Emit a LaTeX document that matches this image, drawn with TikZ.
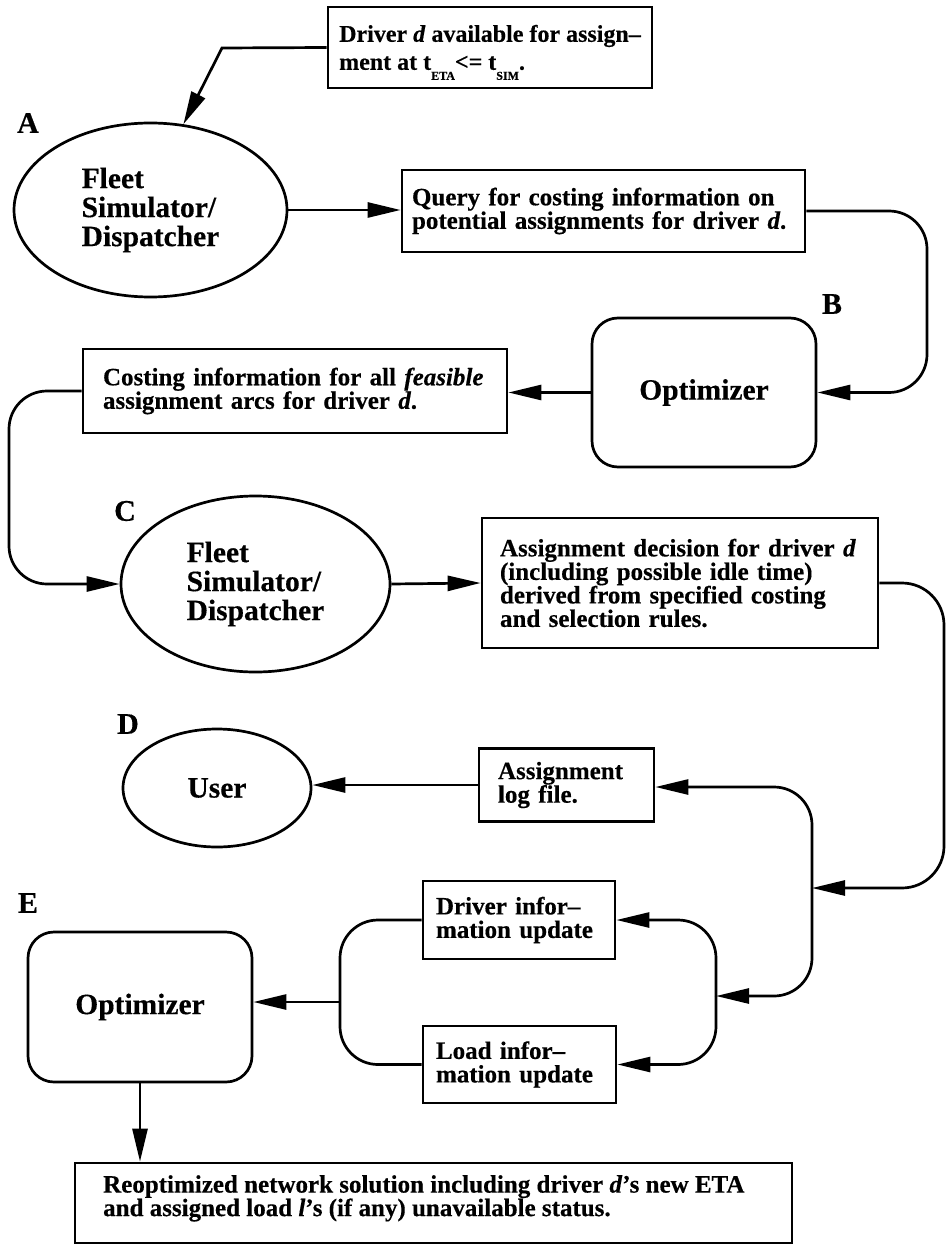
\documentclass[tikz,border=0pt]{standalone}
\usepackage{fontspec}
\setmainfont{Liberation Serif}[BoldFeatures={FakeBold=0.4},BoldItalicFeatures={FakeBold=0.4}]
\usetikzlibrary{arrows.meta,shapes.geometric}
\newcommand{\sbx}[1]{\raisebox{-10pt}[0pt][0pt]{\fontsize{12}{12}\selectfont #1}}
\begin{document}
\begin{tikzpicture}[x=1pt,y=-1pt,
  lw/.style={line width=2.7pt},
  txt/.style={font=\bfseries\fontsize{25}{23.5}\selectfont},
  big/.style={font=\bfseries\fontsize{29.5}{29}\selectfont},
  box/.style={draw,lw,rectangle,txt,align=left,inner ysep=0pt},
  oval/.style={draw,lw,ellipse,big,align=left,inner sep=0pt},
  rbox/.style={draw,lw,rectangle,rounded corners=26pt,big,inner sep=0pt},
  lab/.style={font=\bfseries\fontsize{30}{30}\selectfont},
  arr/.style={lw,-{Triangle[length=33pt,width=15pt]}},
  con/.style={lw,rounded corners=38pt},
]
\useasboundingbox (0,0) rectangle (947,1246);

% nodes
\node[box, minimum width=324pt, minimum height=81pt, inner xsep=0pt,
      font=\bfseries\fontsize{24}{28}\selectfont] (top) at (490,47.5)
  {Driver \textit{d} available for assign–\\ment at t\sbx{ETA}<= t\sbx{SIM}.};
\node[box, minimum width=403pt, minimum height=82pt, inner xsep=10pt, text width=383pt] (query) at (603.5,211)
  {Query for costing information on\\potential assignments for driver \textit{d}.};
\node[rbox, minimum width=224pt, minimum height=149pt] (optB) at (704,392.5) {Optimizer};
\node[box, minimum width=424pt, minimum height=84pt, inner xsep=20pt, text width=384pt] (costing) at (295,391)
  {Costing information for all \textit{feasible}\\assignment arcs for driver \textit{d}.};
\node[oval, minimum width=273pt, minimum height=174pt] (A) at (150.5,210) {Fleet\\Simulator/\\Dispatcher};
\node[oval, minimum width=269pt, minimum height=176pt] (C) at (255.5,584) {Fleet\\Simulator/\\Dispatcher};
\node[box, minimum width=396pt, minimum height=130pt, inner xsep=18pt, text width=360pt] (assign) at (680,583)
  {Assignment decision for driver \textit{d}\\(including possible idle time)\\derived from specified costing\\and selection rules.};
\node[oval, minimum width=188pt, minimum height=118pt] (user) at (217,788) {User};
\node[box, minimum width=175pt, minimum height=73pt, inner xsep=19pt, text width=137pt] (log) at (566.5,785)
  {Assignment\\log file.};
\node[box, minimum width=192pt, minimum height=78pt, inner xsep=13pt, text width=166pt] (drv) at (519,920)
  {Driver infor–\\mation update};
\node[box, minimum width=193pt, minimum height=77pt, inner xsep=13pt, text width=167pt] (load) at (519.5,1064.5)
  {Load infor–\\mation update};
\node[rbox, minimum width=224pt, minimum height=150pt] (optE) at (140,1007) {Optimizer};
\node[draw, lw, minimum width=717pt, minimum height=80pt, inner sep=0pt] (result) at (433.5,1203) {};
\node[txt, anchor=north west, align=left, inner sep=0pt] (restext) at (103,1175)
  {Reoptimized network solution including driver \textit{d}’s new ETA\\and assigned load \textit{l}’s (if any) unavailable status.};

% labels
\node[lab] (la) at (28,123) {A};
\node[lab] (lb) at (832,304) {B};
\node[lab] (lc) at (125,511) {C};
\node[lab] (ld) at (128,724) {D};
\node[lab] (le) at (28,903) {E};

% connectors
\coordinate (k0) at (222,48);
\draw[arr] (top.west) -- (k0) -- (A.69);
\draw[arr] (A.east) -- (A.east -| query.west);
\draw[arr,con] (query.east) -- (927,211) -- (927,392.5) -- (optB.east);
\draw[arr] (optB.west) -- (optB.west -| costing.east);
\draw[arr,con] (costing.west) -- (9,391) -- (9,584) -- (C.west);
\draw[arr] (C.east) -- (assign.west);
\coordinate (j1) at (812,888);
\draw[arr,rounded corners=42pt] (assign.east) -- (944,583) -- (944,888) -- (j1);
\coordinate (j0) at (812,787);
\draw[arr,con] (j1) -- (j0) -- (j0 -| log.east);
\coordinate (j2) at (716,996);
\draw[arr,con] (j1) -- (812,996) -- (j2);
\draw[arr,con] (j2) -- (drv.east -| j2) -- (drv.east);
\draw[arr,con] (j2) -- (load.east -| j2) -- (load.east);
\draw[con] (drv.west) -- (340,920) -- (340,1064.5) -- (load.west);
\coordinate (j3) at (340,1002);
\draw[arr] (j3) -- (j3 -| optE.east);
\draw[arr] (log.west) -- (log.west -| user.east);
\draw[arr] (optE.south) -- (optE.south |- result.north);
\end{tikzpicture}
\end{document}
